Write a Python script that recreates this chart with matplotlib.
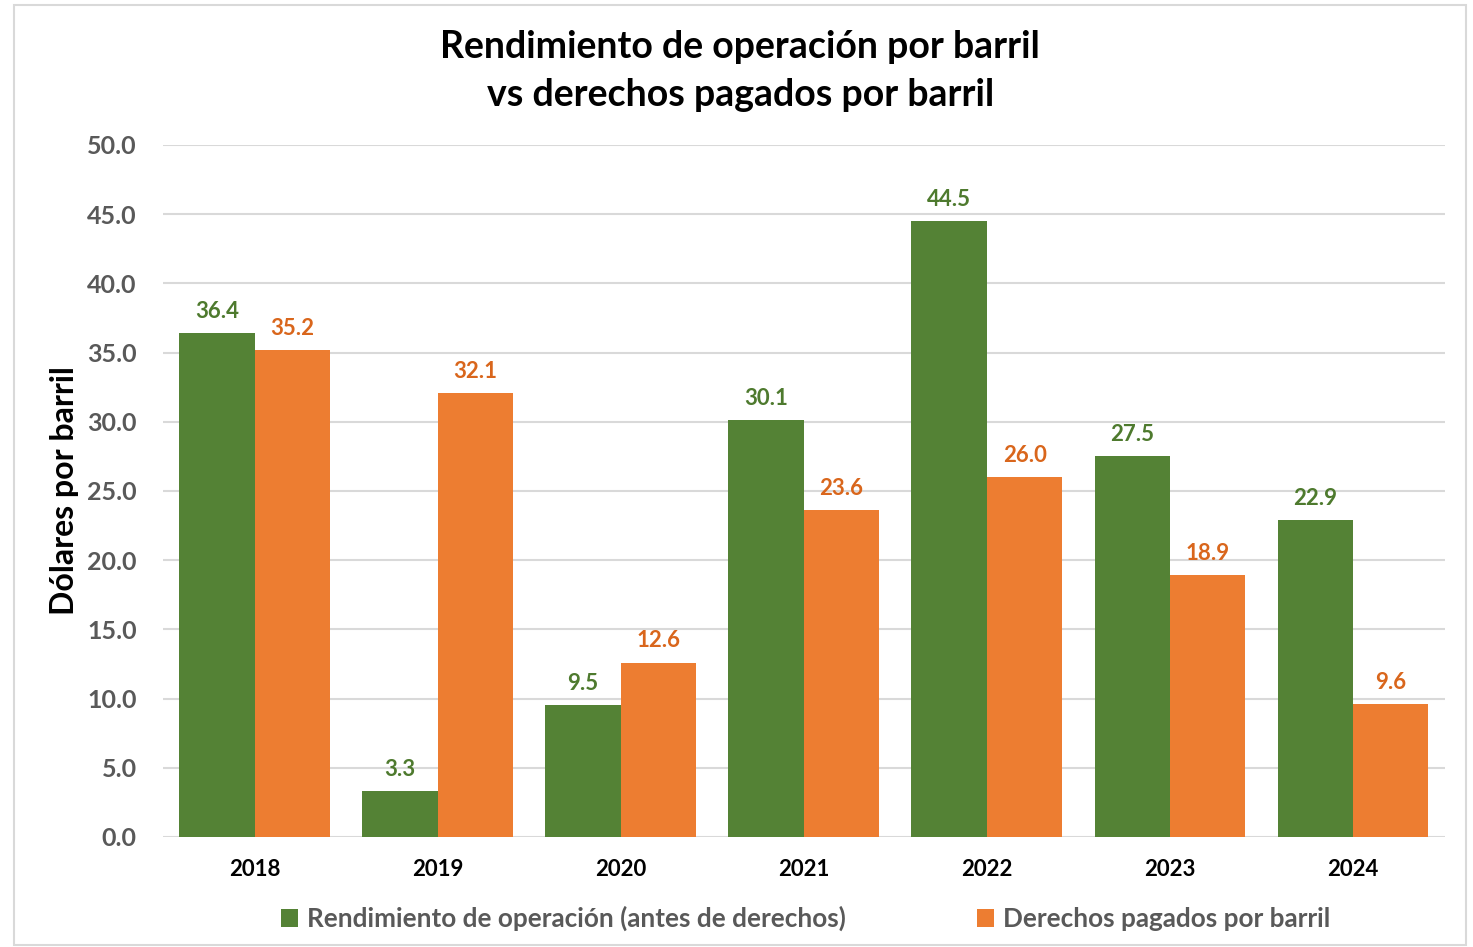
#!/usr/bin/env python3
import numpy as np
import matplotlib
matplotlib.use("Agg")
import matplotlib.pyplot as plt
from matplotlib.patches import Rectangle

years = ["2018", "2019", "2020", "2021", "2022", "2023", "2024"]
rendimiento = [36.4, 3.3, 9.5, 30.1, 44.5, 27.5, 22.9]
derechos = [35.2, 32.1, 12.6, 23.6, 26.0, 18.9, 9.6]

labels = ["Rendimiento de operación (antes de derechos)", "Derechos pagados por barril"]
title = "Rendimiento de operación por barril\nvs derechos pagados por barril"
ylabel = "Dólares por barril"

GREEN = "#548235"
ORANGE = "#ED7D31"
GREEN_TXT = "#4E7A2E"
ORANGE_TXT = "#D9661C"
GRAY = "#595959"


def main() -> None:
    plt.rcParams["font.family"] = ["Lato", "DejaVu Sans"]
    plt.rcParams["font.weight"] = "bold"

    fig = plt.figure(figsize=(14.73, 9.47), dpi=100)
    ax = fig.add_axes([0.1107, 0.1162, 0.8700, 0.7307])

    x = np.arange(len(years))
    w = 0.412
    b1 = ax.bar(x - w / 2, rendimiento, w, color=GREEN, label=labels[0], zorder=2)
    b2 = ax.bar(x + w / 2, derechos, w, color=ORANGE, label=labels[1], zorder=2)

    for bars, vals, c in [(b1, rendimiento, GREEN_TXT), (b2, derechos, ORANGE_TXT)]:
        for r, v in zip(bars, vals):
            ax.annotate(f"{v:.1f}", (r.get_x() + r.get_width() / 2, v),
                        xytext=(0, 8), textcoords="offset points",
                        ha="center", va="bottom", fontsize=16,
                        fontweight="bold", color=c)

    ax.set_xlim(-0.5, len(years) - 0.5)
    ax.set_ylim(0, 50)
    ax.set_yticks(np.arange(0, 50.1, 5))
    ax.set_yticklabels([f"{t:.1f}" for t in np.arange(0, 50.1, 5)],
                       fontsize=18, fontweight="bold", color=GRAY)
    ax.set_xticks(x)
    ax.set_xticklabels(years, fontsize=16, fontweight="bold", color="black")
    ax.tick_params(axis="both", length=0)
    ax.tick_params(axis="y", pad=19)
    ax.tick_params(axis="x", pad=16)
    ax.yaxis.grid(True, color="#D9D9D9", linewidth=1.5, zorder=0)
    for s in ax.spines.values():
        s.set_visible(False)

    ax.set_ylabel(ylabel, fontsize=23, fontweight="bold", color="black", labelpad=6)

    fig.text(0.5025, 0.925, title, ha="center", va="center", fontsize=27,
             fontweight="bold", color="black", linespacing=1.5)

    fig.legend(loc="center", bbox_to_anchor=(0.547, 0.030), ncol=2, frameon=False,
               fontsize=18.8, handlelength=0.65, handleheight=0.65, columnspacing=5.0,
               handletextpad=0.35, labelcolor=GRAY)

    fig.patches.append(Rectangle((0.0095, 0.002), 0.986, 0.993, transform=fig.transFigure,
                                 fill=False, edgecolor="#D9D9D9", linewidth=1.5))

    fig.savefig("out.png", dpi=100)


if __name__ == "__main__":
    main()
